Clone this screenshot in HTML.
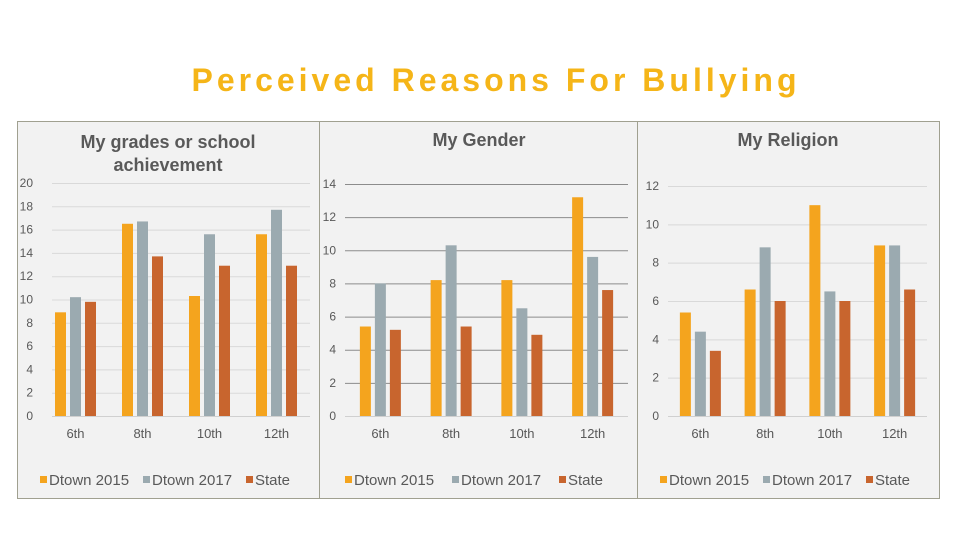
<!DOCTYPE html>
<html><head><meta charset="utf-8"><style>
body{margin:0;background:#fff;width:960px;height:540px;overflow:hidden;font-family:"Liberation Sans",sans-serif}
</style></head><body>
<svg id="s" width="960" height="540" xmlns="http://www.w3.org/2000/svg">
<text x="496" y="91" text-anchor="middle" font-size="32" font-weight="bold" fill="#F5B518" letter-spacing="4" font-family="Liberation Sans, sans-serif">Perceived Reasons For Bullying</text>
<rect x="17.5" y="121.5" width="922" height="377" fill="#f2f2f2" stroke="#a0a090"/>
<line x1="319.5" y1="122" x2="319.5" y2="498" stroke="#a0a090"/>
<line x1="637.5" y1="122" x2="637.5" y2="498" stroke="#a0a090"/>
</svg>
<script>
const categories=["6th","8th","10th","12th"];
const seriesNames=["Dtown 2015","Dtown 2017","State"];
const colors=["#F4A41E","#9BAAB0","#C8652E"];
const gradesD2015=[8.9,16.5,10.3,15.6];
const gradesD2017=[10.2,16.7,15.6,17.7];
const gradesState=[9.8,13.7,12.9,12.9];
const genderD2015=[5.4,8.2,8.2,13.2];
const genderD2017=[8.0,10.3,6.5,9.6];
const genderState=[5.2,5.4,4.9,7.6];
const religionD2015=[5.4,6.6,11.0,8.9];
const religionD2017=[4.4,8.8,6.5,8.9];
const religionState=[3.4,6.0,6.0,6.6];
const gradesTicks=[0,2,4,6,8,10,12,14,16,18,20];
const genderTicks=[0,2,4,6,8,10,12,14];
const religionTicks=[0,2,4,6,8,10,12];

const svg=document.getElementById('s');
const NS="http://www.w3.org/2000/svg";
function el(t,a,txt){const e=document.createElementNS(NS,t);for(const k in a)e.setAttribute(k,a[k]);if(txt!==undefined)e.textContent=txt;svg.appendChild(e);return e;}

const charts=[
 {key:"grades",title:["My grades or school","achievement"],tx:168,ty:[148,171],series:[gradesD2015,gradesD2017,gradesState],ticks:gradesTicks,max:20,top:183,x0:42,x1:310,gx0:52,tickX:33,grid:"#d9d9d9",legendX:40},
 {key:"gender",title:["My Gender"],tx:479,ty:[146],series:[genderD2015,genderD2017,genderState],ticks:genderTicks,max:14,top:184,x0:345,x1:628,gx0:345,tickX:336,grid:"#8c8c8c",legendX:345},
 {key:"religion",title:["My Religion"],tx:788,ty:[146],series:[religionD2015,religionD2017,religionState],ticks:religionTicks,max:12,top:186,x0:668,x1:927,gx0:668,tickX:659,grid:"#d9d9d9",legendX:660}
];
const base=416;
charts.forEach(c=>{
  const y=v=>base-(v/c.max)*(base-c.top);
  const gw=(c.x1-c.x0)/categories.length;
  c.title.forEach((t,i)=>{const e=el('text',{x:c.tx,y:c.ty[i],'text-anchor':'middle','font-size':'18','font-weight':'bold',fill:'#595959'},t);
    
    });
  c.ticks.forEach(t=>{
    const ln=el('line',{x1:c.gx0,x2:c.x1,y1:y(t)+0.5,y2:y(t)+0.5,stroke:t===0?'#d0d0d0':c.grid,'stroke-width':1});
    
    
    const tx=el('text',{x:c.tickX,y:y(t)+4,'text-anchor':'end','font-size':'12',fill:'#595959'},t);
    
    
  });
  const bw=11, gap=15;
  categories.forEach((cat,i)=>{
    const cx=c.x0+gw*(i+0.5);
    c.series.forEach((s,j)=>{
      const bx=cx+(j-1)*gap-bw/2;
      const r=el('rect',{x:bx,y:y(s[i]),width:bw,height:base-y(s[i]),fill:colors[j]});
      
      
    });
    const lt=el('text',{x:cx,y:438,'text-anchor':'middle','font-size':'13',fill:'#595959'},cat);
    
    
  });
  let lx=c.legendX;
  const widths=c.key==="gender"?[107,107,60]:[103,103,60];
  seriesNames.forEach((n,j)=>{
    const sq=el('rect',{x:lx,y:476,width:7,height:7,fill:colors[j]});
    
    
    const t=el('text',{x:lx+9,y:485,'font-size':'15',fill:'#595959'},n);
    
    
    lx+=widths[j];
  });
});
</script>
</body></html>
